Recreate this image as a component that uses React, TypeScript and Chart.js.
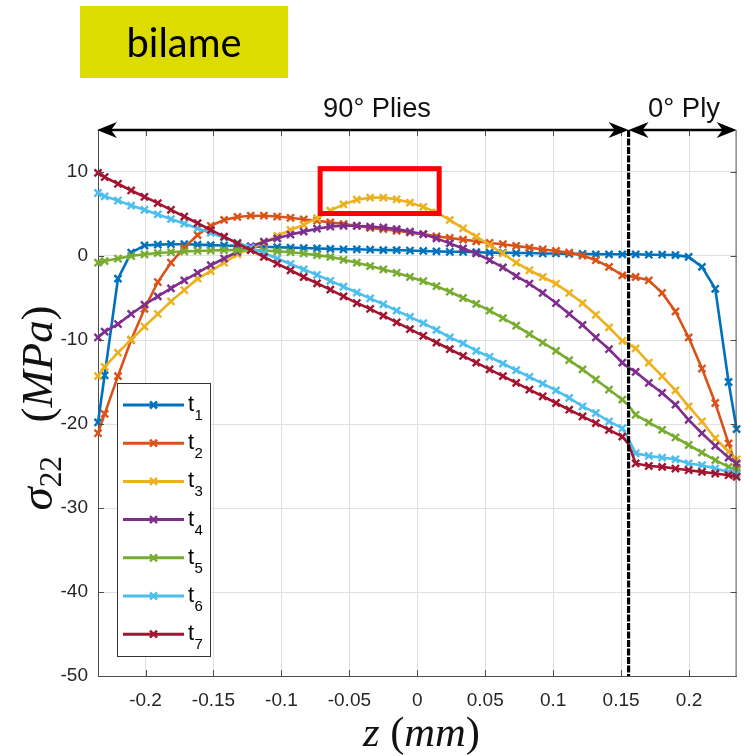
import React, { useEffect, useRef } from "react";
import { Chart, registerables } from "chart.js";

Chart.register(...registerables);

// Through-thickness position z (mm); 0.1555 is the 90°/0° ply interface
const Z_MM = [
  -0.235,
  -0.2301, -0.2203, -0.2106, -0.2008, -0.191, -0.1813, -0.1715, -0.1617, -0.152, -0.1422,
  -0.1324, -0.1226, -0.1129, -0.1031, -0.0933, -0.0836, -0.0738, -0.064, -0.0543, -0.0445,
  -0.0347, -0.025, -0.0152, -0.0054, 0.0044, 0.0141, 0.0239, 0.0337, 0.0434, 0.0532,
  0.063, 0.0728, 0.0825, 0.0923, 0.1021, 0.1118, 0.1216, 0.1314, 0.1411, 0.1509,
  0.1555,
  0.1607, 0.1704, 0.1802, 0.19, 0.1997, 0.2095, 0.2193, 0.2291,
  0.235,
];

// sigma_22 (MPa) at each time step
const T1 = [
  -19.8,
  -14.2, -2.7, 0.4, 1.25, 1.35, 1.4, 1.4, 1.35, 1.3, 1.25,
  1.2, 1.15, 1.1, 1.05, 1.0, 0.95, 0.9, 0.85, 0.8, 0.8,
  0.75, 0.7, 0.7, 0.65, 0.6, 0.55, 0.5, 0.5, 0.45, 0.4,
  0.4, 0.35, 0.35, 0.3, 0.3, 0.25, 0.25, 0.2, 0.2, 0.2,
  0.2,
  0.2, 0.15, 0.15, 0.1, -0.1, -1.3, -3.9, -15.0,
  -20.6,
];
const T2 = [
  -21.1,
  -18.8, -14.3, -10.0, -6.3, -3.1, -0.8, 1.0, 2.5, 3.6, 4.3,
  4.65, 4.8, 4.8, 4.7, 4.55, 4.35, 4.2, 4.0, 3.8, 3.6,
  3.35, 3.2, 3.0, 2.8, 2.6, 2.35, 2.15, 1.95, 1.75, 1.55,
  1.4, 1.2, 1.0, 0.8, 0.6, 0.4, 0.05, -0.5, -1.3, -2.3,
  -2.4,
  -2.5, -2.9, -4.4, -6.6, -9.7, -13.4, -17.5, -22.3,
  -25.2,
];
const T3 = [
  -14.3,
  -13.2, -11.5, -9.95, -8.4, -6.9, -5.4, -4.05, -2.7, -1.8, -0.8,
  0.2, 0.9, 1.6, 2.4, 3.1, 3.7, 4.5, 5.4, 6.15, 6.7,
  6.95, 6.95, 6.75, 6.35, 5.85, 5.2, 4.3, 3.3, 2.3, 1.3,
  0.3, -0.8, -1.7, -2.5, -3.3, -4.4, -5.6, -7.0, -8.5, -10.1,
  -10.5,
  -11.0, -12.7, -14.3, -16.0, -17.9, -19.7, -21.7, -23.3,
  -24.2,
];
const T4 = [
  -9.7,
  -9.0, -8.1, -6.9, -5.8, -4.8, -3.85, -2.9, -2.0, -1.1, -0.3,
  0.5, 1.15, 1.7, 2.1, 2.55, 2.9, 3.25, 3.5, 3.6, 3.6,
  3.5, 3.4, 3.2, 2.9, 2.6, 2.1, 1.5, 0.9, 0.3, -0.5,
  -1.35, -2.4, -3.3, -4.4, -5.6, -6.9, -8.2, -9.7, -11.1, -12.7,
  -13.3,
  -13.8, -15.1, -16.3, -17.7, -19.5, -21.1, -22.6, -24.0,
  -24.7,
];
const T5 = [
  -0.8,
  -0.6, -0.3, 0.0, 0.2, 0.35, 0.45, 0.55, 0.6, 0.65, 0.7,
  0.7, 0.7, 0.65, 0.55, 0.45, 0.3, 0.1, -0.1, -0.45, -0.8,
  -1.2, -1.6, -2.0, -2.5, -3.0, -3.6, -4.25, -5.0, -5.7, -6.5,
  -7.4, -8.3, -9.3, -10.3, -11.3, -12.4, -13.5, -14.7, -15.9, -17.1,
  -17.8,
  -18.9, -19.8, -20.7, -21.6, -22.5, -23.4, -24.3, -25.1,
  -25.5,
];
const T6 = [
  7.5,
  7.1, 6.6, 6.0, 5.5, 4.95, 4.4, 3.85, 3.3, 2.75, 2.2,
  1.6, 1.0, 0.35, -0.3, -0.95, -1.6, -2.25, -2.95, -3.65, -4.35,
  -5.05, -5.75, -6.5, -7.25, -8.0, -8.8, -9.7, -10.4, -11.3, -12.0,
  -12.8, -13.6, -14.4, -15.2, -16.0, -16.9, -17.9, -18.7, -19.7, -20.5,
  -21.8,
  -23.5, -23.8, -24.0, -24.2, -24.7, -24.9, -25.3, -25.7,
  -26.0,
];
const T7 = [
  9.9,
  9.4, 8.6, 7.8, 7.05, 6.3, 5.5, 4.7, 3.9, 3.1, 2.3,
  1.5, 0.7, -0.1, -0.9, -1.7, -2.5, -3.25, -4.0, -4.8, -5.6,
  -6.3, -7.1, -7.9, -8.7, -9.5, -10.3, -11.1, -11.9, -12.7, -13.5,
  -14.3, -15.1, -15.9, -16.7, -17.5, -18.3, -19.1, -19.9, -20.7, -21.5,
  -22.4,
  -24.7, -25.0, -25.1, -25.3, -25.5, -25.7, -25.9, -26.1,
  -26.3,
];

const SERIES = [T1, T2, T3, T4, T5, T6, T7];
const SERIES_SUBSCRIPTS = ["1", "2", "3", "4", "5", "6", "7"];
const SERIES_COLORS = ["#0072BD", "#D95319", "#EDB120", "#7E2F8E", "#77AC30", "#4DBEEE", "#A2142F"];

const X_TICKS = [-0.2, -0.15, -0.1, -0.05, 0, 0.05, 0.1, 0.15, 0.2];
const Y_TICKS = [-50, -40, -30, -20, -10, 0, 10];
const X_MIN = -0.235;
const X_MAX = 0.235;
const Y_MIN = -50;
const Y_MAX = 15;
const PLY_INTERFACE = 0.1555;
const HIGHLIGHT = { x0: -0.0715, x1: 0.0161, y0: 5.06, y1: 10.4 };
const REGION_LABELS = ["90° Plies", "0° Ply"];
const BADGE_TEXT = "bilame";

const SANS = '"Liberation Sans", Arial, Helvetica, sans-serif';
const SERIF = '"Liberation Serif", "Times New Roman", serif';
const AXIS_COLOR = "#4d4d4d";
const TICK_TEXT = "#262626";
const GRID_COLOR = "#e0e0e0";

type Seg = { text: string; italic?: boolean; scale?: number; dy?: number };

// Draws a run of mixed-style text centred on cx, scaled so the whole run is `width` wide
function drawSegments(
  ctx: CanvasRenderingContext2D,
  segs: Seg[],
  cx: number,
  baseline: number,
  width: number
) {
  const base = 40;
  const fontFor = (s: Seg, size: number) =>
    `${s.italic ? "italic " : ""}${size * (s.scale || 1)}px ${SERIF}`;
  let total = 0;
  segs.forEach((s) => {
    ctx.font = fontFor(s, base);
    total += ctx.measureText(s.text).width;
  });
  const size = (base * width) / total;
  let x = cx - width / 2;
  ctx.textAlign = "left";
  ctx.textBaseline = "alphabetic";
  segs.forEach((s) => {
    ctx.font = fontFor(s, size);
    ctx.fillText(s.text, x, baseline + ((s.dy || 0) * size) / base);
    x += ctx.measureText(s.text).width;
  });
}

function fittedSize(ctx: CanvasRenderingContext2D, text: string, family: string, target: number) {
  ctx.font = `40px ${family}`;
  return (40 * target) / ctx.measureText(text).width;
}

function arrowHead(ctx: CanvasRenderingContext2D, tipX: number, y: number, dir: number) {
  const L = 20;
  const H = 8;
  ctx.beginPath();
  ctx.moveTo(tipX, y);
  ctx.lineTo(tipX - dir * L, y - H);
  ctx.lineTo(tipX - dir * L * 0.7, y);
  ctx.lineTo(tipX - dir * L, y + H);
  ctx.closePath();
  ctx.fill();
}

function doubleArrow(ctx: CanvasRenderingContext2D, x0: number, x1: number, y: number) {
  ctx.lineWidth = 2.5;
  ctx.beginPath();
  ctx.moveTo(x0 + 6, y);
  ctx.lineTo(x1 - 6, y);
  ctx.stroke();
  arrowHead(ctx, x0, y, -1);
  arrowHead(ctx, x1, y, 1);
}

const overlayPlugin = {
  id: "overlay",
  afterDraw(chart: any) {
    const { ctx, chartArea: a, scales } = chart;
    const xs = scales.x;
    const ys = scales.y;
    ctx.save();

    // box: right border and inward tick marks on all sides
    ctx.strokeStyle = AXIS_COLOR;
    ctx.lineWidth = 1;
    ctx.beginPath();
    ctx.moveTo(a.right - 0.5, a.top);
    ctx.lineTo(a.right - 0.5, a.bottom);
    for (const v of X_TICKS) {
      const px = Math.round(xs.getPixelForValue(v)) + 0.5;
      ctx.moveTo(px, a.bottom);
      ctx.lineTo(px, a.bottom - 6);
      ctx.moveTo(px, a.top);
      ctx.lineTo(px, a.top + 6);
    }
    for (const v of Y_TICKS) {
      const py = Math.round(ys.getPixelForValue(v)) + 0.5;
      ctx.moveTo(a.left, py);
      ctx.lineTo(a.left + 6, py);
      ctx.moveTo(a.right, py);
      ctx.lineTo(a.right - 6, py);
    }
    ctx.stroke();

    // ply interface
    const xi = xs.getPixelForValue(PLY_INTERFACE);
    ctx.strokeStyle = "#000";
    ctx.lineWidth = 3.2;
    ctx.setLineDash([7, 1.5]);
    ctx.beginPath();
    ctx.moveTo(xi, a.top);
    ctx.lineTo(xi, a.bottom);
    ctx.stroke();
    ctx.setLineDash([]);

    // ply region arrows and labels
    ctx.fillStyle = "#000";
    ctx.strokeStyle = "#000";
    doubleArrow(ctx, a.left - 1, xi, a.top);
    doubleArrow(ctx, xi, a.right, a.top);
    ctx.fillStyle = "#111";
    ctx.textAlign = "center";
    ctx.textBaseline = "alphabetic";
    let fs = fittedSize(ctx, REGION_LABELS[0], SANS, 108);
    ctx.font = `${fs}px ${SANS}`;
    ctx.fillText(REGION_LABELS[0], 377, 117);
    fs = fittedSize(ctx, REGION_LABELS[1], SANS, 72);
    ctx.font = `${fs}px ${SANS}`;
    ctx.fillText(REGION_LABELS[1], 684, 117);

    // highlighted region
    const hx0 = xs.getPixelForValue(HIGHLIGHT.x0);
    const hx1 = xs.getPixelForValue(HIGHLIGHT.x1);
    const hy0 = ys.getPixelForValue(HIGHLIGHT.y1);
    const hy1 = ys.getPixelForValue(HIGHLIGHT.y0);
    ctx.strokeStyle = "#ff0000";
    ctx.lineWidth = 5;
    ctx.strokeRect(hx0, hy0, hx1 - hx0, hy1 - hy0);

    // legend
    const lx0 = 117.5;
    const ly0 = 383.5;
    const lx1 = 210.5;
    const ly1 = 656.5;
    ctx.fillStyle = "#fff";
    ctx.fillRect(lx0, ly0, lx1 - lx0, ly1 - ly0);
    ctx.strokeStyle = "#333";
    ctx.lineWidth = 1;
    ctx.strokeRect(lx0, ly0, lx1 - lx0, ly1 - ly0);
    SERIES_COLORS.forEach((c, i) => {
      const y = 405 + i * 38.2;
      ctx.strokeStyle = c;
      ctx.lineWidth = 3;
      ctx.beginPath();
      ctx.moveTo(123, y);
      ctx.lineTo(184, y);
      ctx.stroke();
      ctx.lineWidth = 2.5;
      ctx.beginPath();
      ctx.moveTo(150, y - 3.5);
      ctx.lineTo(157, y + 3.5);
      ctx.moveTo(150, y + 3.5);
      ctx.lineTo(157, y - 3.5);
      ctx.stroke();
      ctx.fillStyle = "#000";
      ctx.textAlign = "left";
      ctx.textBaseline = "alphabetic";
      ctx.font = `22px ${SANS}`;
      ctx.fillText("t", 188, y + 6);
      const tw = ctx.measureText("t").width;
      ctx.font = `15px ${SANS}`;
      ctx.fillText(SERIES_SUBSCRIPTS[i], 188 + tw + 0.5, y + 15);
    });

    // axis titles
    ctx.fillStyle = "#111";
    drawSegments(
      ctx,
      [
        { text: "z", italic: true },
        { text: " (" },
        { text: "mm", italic: true },
        { text: ")" },
      ],
      421.5,
      746,
      117
    );
    ctx.save();
    ctx.translate(52, 408);
    ctx.rotate(-Math.PI / 2);
    drawSegments(
      ctx,
      [
        { text: "σ", italic: true, scale: 1.05 },
        { text: "22", scale: 0.7, dy: 8 },
        { text: "   (" },
        { text: "MPa", italic: true },
        { text: ")" },
      ],
      0,
      0,
      205
    );
    ctx.restore();

    // badge
    ctx.fillStyle = "rgb(221,220,0)";
    ctx.fillRect(80, 6, 208, 72);
    ctx.fillStyle = "#000";
    const bfamily = 'Lato, "Open Sans", sans-serif';
    fs = fittedSize(ctx, BADGE_TEXT, bfamily, 115);
    ctx.font = `${fs}px ${bfamily}`;
    ctx.textAlign = "center";
    ctx.fillText(BADGE_TEXT, 184, 56.5);

    ctx.restore();
  },
};

export default function App() {
  const canvasRef = useRef<HTMLCanvasElement | null>(null);

  useEffect(() => {
    const canvas = canvasRef.current;
    if (!canvas) return;
    const chart = new Chart(canvas, {
      type: "line",
      data: {
        datasets: SERIES.map((vals, i) => ({
          label: "t" + SERIES_SUBSCRIPTS[i],
          data: Z_MM.map((z, k) => ({ x: z, y: vals[k] })),
          borderColor: SERIES_COLORS[i],
          backgroundColor: SERIES_COLORS[i],
          borderWidth: 2.6,
          pointStyle: "crossRot",
          pointRadius: (c: any) => (Z_MM[c.dataIndex] === PLY_INTERFACE ? 0 : 5),
          pointBorderWidth: 2.4,
          pointHoverRadius: 5,
          tension: 0,
          clip: false as any,
          order: SERIES.length - i,
        })),
      },
      options: {
        responsive: false,
        animation: false,
        devicePixelRatio: 1,
        events: [],
        layout: { padding: { top: 130, right: 2, left: 0, bottom: 0 } },
        plugins: { legend: { display: false }, tooltip: { enabled: false } },
        scales: {
          x: {
            type: "linear",
            min: X_MIN,
            max: X_MAX,
            afterFit: (s: any) => {
              s.height = 80;
            },
            afterBuildTicks: (s: any) => {
              s.ticks = X_TICKS.map((v) => ({ value: v }));
            },
            grid: { color: GRID_COLOR, drawTicks: false },
            border: { color: AXIS_COLOR, width: 1 },
            ticks: {
              padding: 13,
              color: TICK_TEXT,
              font: { family: SANS, size: 19 },
              maxRotation: 0,
              autoSkip: false,
              callback: (v: any) => String(+Number(v).toFixed(2)),
            },
          },
          y: {
            type: "linear",
            min: Y_MIN,
            max: Y_MAX,
            afterFit: (s: any) => {
              s.width = 98;
            },
            afterBuildTicks: (s: any) => {
              s.ticks = Y_TICKS.map((v) => ({ value: v }));
            },
            grid: { color: GRID_COLOR, drawTicks: false },
            border: { color: AXIS_COLOR, width: 1 },
            ticks: {
              padding: 10,
              color: TICK_TEXT,
              font: { family: SANS, size: 19 },
              autoSkip: false,
              callback: (v: any) => String(v),
            },
          },
        },
      } as any,
      plugins: [overlayPlugin],
    });
    return () => chart.destroy();
  }, []);

  return (
    <div style={{ position: "absolute", left: 0, top: 0, width: 744, height: 756, background: "#fff" }}>
      <canvas ref={canvasRef} width={744} height={756} style={{ width: 744, height: 756, display: "block" }} />
    </div>
  );
}
